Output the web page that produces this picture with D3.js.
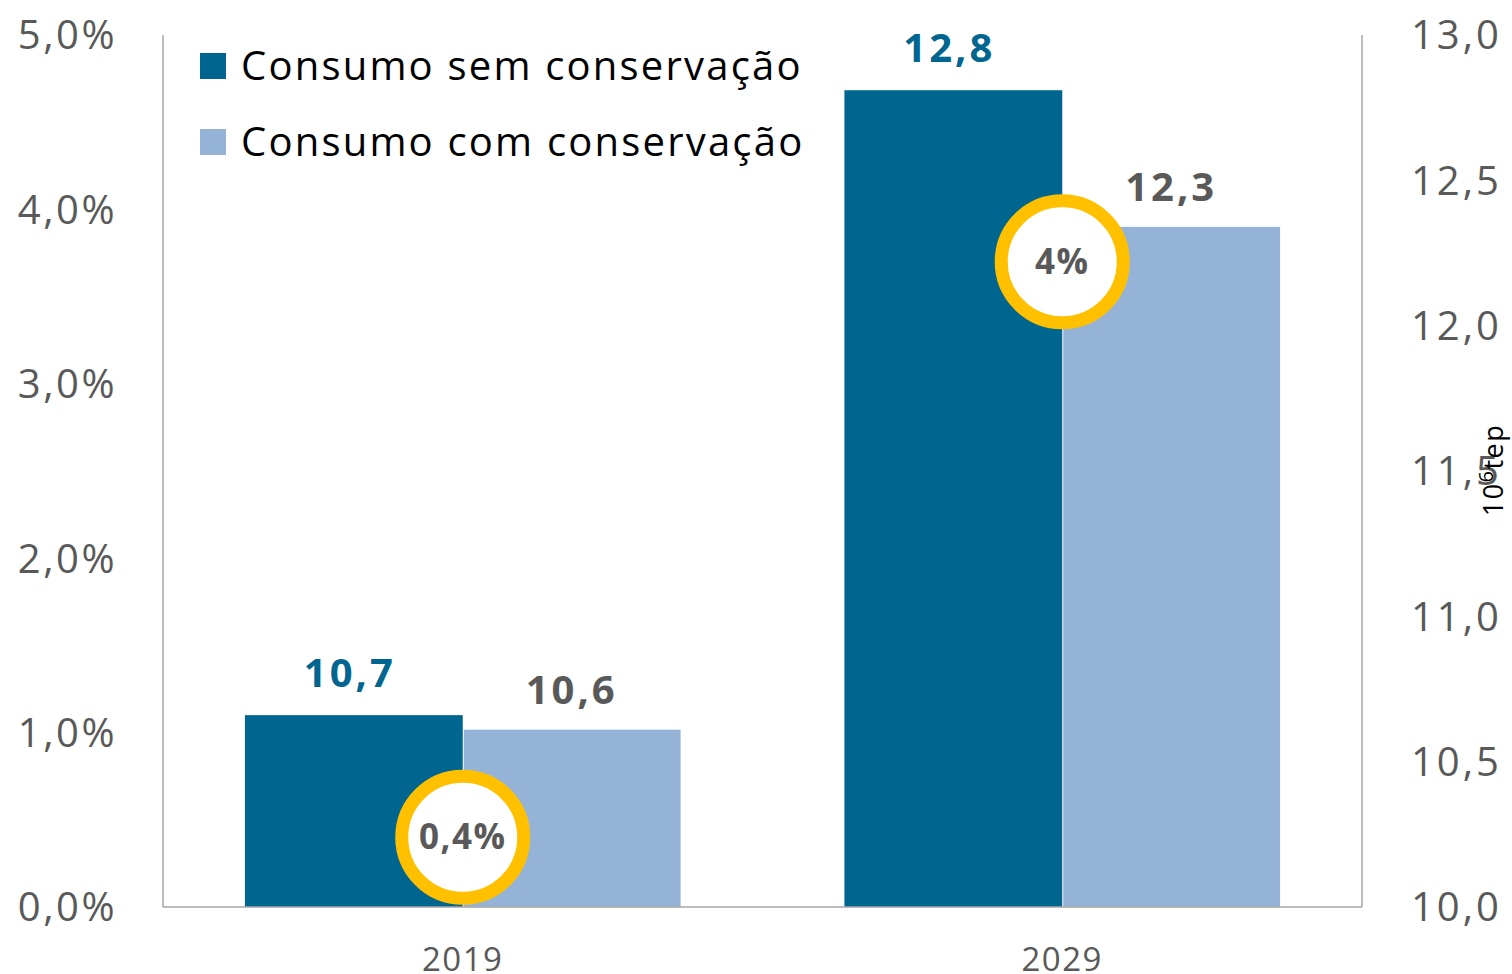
<!DOCTYPE html>
<html>
<head>
<meta charset="utf-8">
<script src="https://cdn.jsdelivr.net/npm/d3@7"></script>
<style>
  body { margin: 0; background: #fff; }
  svg text { font-family: "Open Sans", "DejaVu Sans", sans-serif; }
</style>
</head>
<body>
<svg id="chart" width="1512" height="974"></svg>
<script>
// data
var years = ["2019", "2029"];
var semConservacao = [10.66, 12.81];   // 10^6 tep
var comConservacao = [10.61, 12.34];
var semLabels = ["10,7", "12,8"];
var comLabels = ["10,6", "12,3"];
var economiaPct = [0.4, 3.7];          // % (left axis)
var economiaLabels = ["0,4%", "4%"];
var seriesNames = ["Consumo sem conservação", "Consumo com conservação"];
var leftTicks = [0, 1, 2, 3, 4, 5];
var rightTicks = [10, 10.5, 11, 11.5, 12, 12.5, 13];

var cDark = "#006690", cLight = "#95b3d7", cYellow = "#ffc000", cGrey = "#595959";

var svg = d3.select("#chart");
var pLeft = 163, pRight = 1362, pTop = 35, pBottom = 907;

var x = d3.scaleBand().domain(years).range([pLeft, pRight]).paddingInner(0).paddingOuter(0);
var inner = d3.scaleBand().domain([0, 1]).range([0, x.bandwidth()]).paddingInner(0).paddingOuter(0.376);
var yL = d3.scaleLinear().domain([0, 5]).range([pBottom, pTop]);
var yR = d3.scaleLinear().domain([10, 13]).range([pBottom, pTop]);

var fmt = function(v, d){ return v.toFixed(d).replace(".", ","); };

// axis lines
svg.append("line").attr("x1", pLeft).attr("x2", pLeft).attr("y1", pTop).attr("y2", pBottom)
  .attr("stroke", "#a6a6a6").attr("stroke-width", 1.5);
svg.append("line").attr("x1", pRight).attr("x2", pRight).attr("y1", pTop).attr("y2", pBottom)
  .attr("stroke", "#a6a6a6").attr("stroke-width", 1.5);

// left tick labels
svg.selectAll(".tl").data(leftTicks).enter().append("text")
  .attr("x", 117).attr("y", function(d){ return yL(d); })
  .attr("dy", "0.36em").attr("text-anchor", "end")
  .attr("font-size", 40).attr("letter-spacing", 2.5).attr("fill", cGrey)
  .text(function(d){ return fmt(d, 1) + "%"; });

// right tick labels
svg.selectAll(".tr").data(rightTicks).enter().append("text")
  .attr("x", 1411).attr("y", function(d){ return yR(d); })
  .attr("dy", "0.36em").attr("text-anchor", "start")
  .attr("font-size", 40).attr("letter-spacing", 3).attr("fill", cGrey)
  .text(function(d){ return fmt(d, 1); });

// unit label
var unit = svg.append("text")
  .attr("transform", "translate(1503," + 470 + ") rotate(-90)")
  .attr("text-anchor", "middle").attr("font-size", 27).attr("letter-spacing", 1.5).attr("fill", "#000");
unit.append("tspan").text("10");
unit.append("tspan").attr("dy", -10).attr("font-size", 20).text("6");
unit.append("tspan").attr("dy", 10).text("tep");

// bars
var groups = svg.selectAll(".g").data(years).enter().append("g")
  .attr("transform", function(d){ return "translate(" + x(d) + ",0)"; });

groups.append("rect")
  .attr("x", inner(0)).attr("width", inner.bandwidth())
  .attr("y", function(d, i){ return yR(semConservacao[i]); })
  .attr("height", function(d, i){ return pBottom - yR(semConservacao[i]); })
  .attr("fill", cDark);
groups.append("rect")
  .attr("x", inner(1) + 1).attr("width", inner.bandwidth() - 1)
  .attr("y", function(d, i){ return yR(comConservacao[i]); })
  .attr("height", function(d, i){ return pBottom - yR(comConservacao[i]); })
  .attr("fill", cLight);

// value labels
groups.append("text")
  .attr("x", inner(0) + inner.bandwidth() / 2 - 4)
  .attr("y", function(d, i){ return yR(semConservacao[i]) - 28; })
  .attr("text-anchor", "middle").attr("font-size", 40).attr("letter-spacing", 3)
  .attr("font-weight", "bold").attr("fill", cDark)
  .text(function(d, i){ return semLabels[i]; });
groups.append("text")
  .attr("x", inner(1) + inner.bandwidth() / 2)
  .attr("y", function(d, i){ return yR(comConservacao[i]) - 26; })
  .attr("text-anchor", "middle").attr("font-size", 40).attr("letter-spacing", 3)
  .attr("font-weight", "bold").attr("fill", cGrey)
  .text(function(d, i){ return comLabels[i]; });

// bottom axis line
svg.append("line").attr("x1", pLeft).attr("x2", pRight).attr("y1", pBottom).attr("y2", pBottom)
  .attr("stroke", "#a6a6a6").attr("stroke-width", 1.5);

// economy circles
groups.append("circle")
  .attr("cx", inner(1)).attr("cy", function(d, i){ return yL(economiaPct[i]); })
  .attr("r", 61).attr("fill", "#fff").attr("stroke", cYellow).attr("stroke-width", 13);
groups.append("text")
  .attr("x", inner(1)).attr("y", function(d, i){ return yL(economiaPct[i]); })
  .attr("dy", "0.34em").attr("text-anchor", "middle")
  .attr("font-size", 35).attr("letter-spacing", 1.5)
  .attr("font-weight", "bold").attr("fill", cGrey)
  .text(function(d, i){ return economiaLabels[i]; });

// year labels
groups.append("text")
  .attr("x", x.bandwidth() / 2).attr("y", 971)
  .attr("text-anchor", "middle").attr("font-size", 33).attr("letter-spacing", 1.5).attr("fill", cGrey)
  .text(function(d){ return d; });

// legend
var legend = svg.selectAll(".lg").data(seriesNames).enter().append("g")
  .attr("transform", function(d, i){ return "translate(200," + (66 + i * 76) + ")"; });
legend.append("rect").attr("x", 0).attr("y", -13).attr("width", 26).attr("height", 26)
  .attr("fill", function(d, i){ return i === 0 ? cDark : cLight; });
legend.append("text").attr("x", 41).attr("y", 0).attr("dy", "0.36em")
  .attr("font-size", 40).attr("letter-spacing", 2.2).attr("fill", "#000")
  .text(function(d){ return d; });
</script>
</body>
</html>
